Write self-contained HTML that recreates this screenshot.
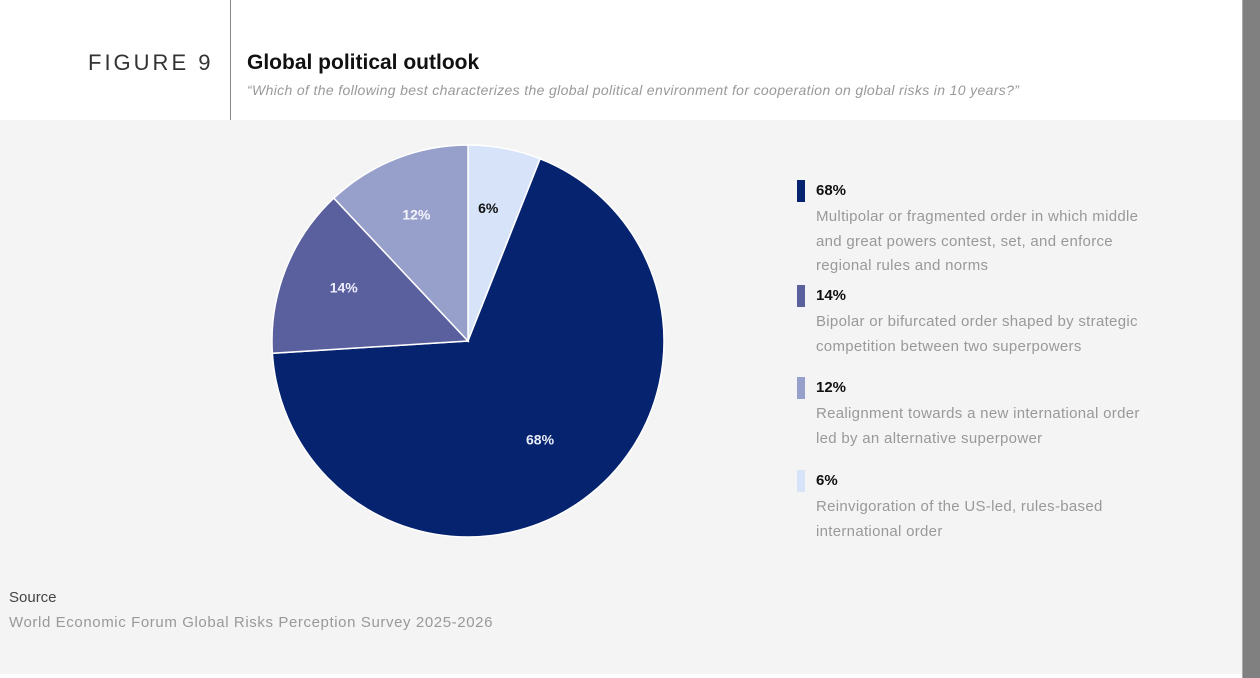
<!DOCTYPE html>
<html><head><meta charset="utf-8"><style>
body{margin:0;width:1260px;height:678px;overflow:hidden;background:#fff;font-family:"Liberation Sans",sans-serif;position:relative}
.abs{position:absolute}
#panel{left:0;top:120px;width:1242px;height:554px;background:#f4f4f4}
#sidebar{left:1242px;top:0;width:18px;height:678px;background:#808080;border-left:1px solid #aaa}
#vline{left:230px;top:0;width:1px;height:120px;background:#888}
.fig{left:88px;top:50px;font-size:22px;letter-spacing:3px;color:#333}
.title{left:247px;top:51px;font-size:21px;font-weight:bold;color:#111}
.sub{left:247px;top:82px;font-size:14px;letter-spacing:0.35px;font-style:italic;color:#999}
.leg{position:absolute;left:797px}
.sw{position:absolute;left:0;top:0;width:8px;height:22px}
.lt{position:absolute;left:19px;top:2px;font-size:15px;font-weight:bold;color:#111}
.ld{position:absolute;left:19px;top:25px;font-size:15px;line-height:24.5px;color:#999;width:345px;letter-spacing:0.3px}
.src{left:9px;top:589px;font-size:15px;color:#444}
.src2{left:9px;top:614px;font-size:15px;color:#999;letter-spacing:0.6px}
</style></head><body>
<div class="abs" id="panel"></div>
<div class="abs" id="sidebar"></div>
<div class="abs" id="vline"></div>
<div class="abs fig">FIGURE 9</div>
<div class="abs title">Global political outlook</div>
<div class="abs sub">“Which of the following best characterizes the global political environment for cooperation on global risks in 10 years?”</div>
<svg class="abs" style="left:0;top:0" width="1242" height="678" id="pie"></svg>

<div class="leg" style="top:180px"><div class="sw" style="background:#06236f"></div><div class="lt">68%</div><div class="ld">Multipolar or fragmented order in which middle and great powers contest, set, and enforce regional rules and norms</div></div>
<div class="leg" style="top:285px"><div class="sw" style="background:#5a5f9e"></div><div class="lt">14%</div><div class="ld">Bipolar or bifurcated order shaped by strategic competition between two superpowers</div></div>
<div class="leg" style="top:377px"><div class="sw" style="background:#979fcb"></div><div class="lt">12%</div><div class="ld">Realignment towards a new international order led by an alternative superpower</div></div>
<div class="leg" style="top:470px"><div class="sw" style="background:#d6e3f8"></div><div class="lt">6%</div><div class="ld">Reinvigoration of the US-led, rules-based international order</div></div>

<div class="abs src">Source</div>
<div class="abs src2">World Economic Forum Global Risks Perception Survey 2025-2026</div>
<script>
const categories=["US-led","Multipolar","Bipolar","Realignment"];
const values=[6,68,14,12];
const colors=["#d6e3f8","#06236f","#5a5f9e","#979fcb"];
const labelColors=["#111","#e8ecf7","#eef","#f4f5fb"];
const cx=468,cy=341,R=196;
const svg=document.getElementById('pie');
const NS="http://www.w3.org/2000/svg";
const total=values.reduce((a,b)=>a+b,0);
function pt(a,r){return [cx+r*Math.sin(a),cy-r*Math.cos(a)];}
let a0=0;
values.forEach((v,i)=>{
  const a1=a0+v/total*2*Math.PI;
  const p0=pt(a0,R),p1=pt(a1,R);
  const large=(a1-a0)>Math.PI?1:0;
  const p=document.createElementNS(NS,'path');
  p.setAttribute('d',`M${cx},${cy}L${p0[0]},${p0[1]}A${R},${R} 0 ${large} 1 ${p1[0]},${p1[1]}Z`);
  p.setAttribute('fill',colors[i]);
  p.setAttribute('stroke','#fff');
  p.setAttribute('stroke-width','1.5');
  
  
  svg.appendChild(p);
  const m=(a0+a1)/2;
  const lp=pt(m,R*0.66);
  const t=document.createElementNS(NS,'text');
  t.setAttribute('x',lp[0]-4);t.setAttribute('y',lp[1]-1);
  t.setAttribute('text-anchor','middle');
  t.setAttribute('font-size','14');t.setAttribute('font-weight','bold');
  t.setAttribute('fill',labelColors[i]);
  t.setAttribute('font-family','Liberation Sans, sans-serif');
  t.textContent=v+'%';
  
  
  svg.appendChild(t);
  a0=a1;
});
</script>
</body></html>
